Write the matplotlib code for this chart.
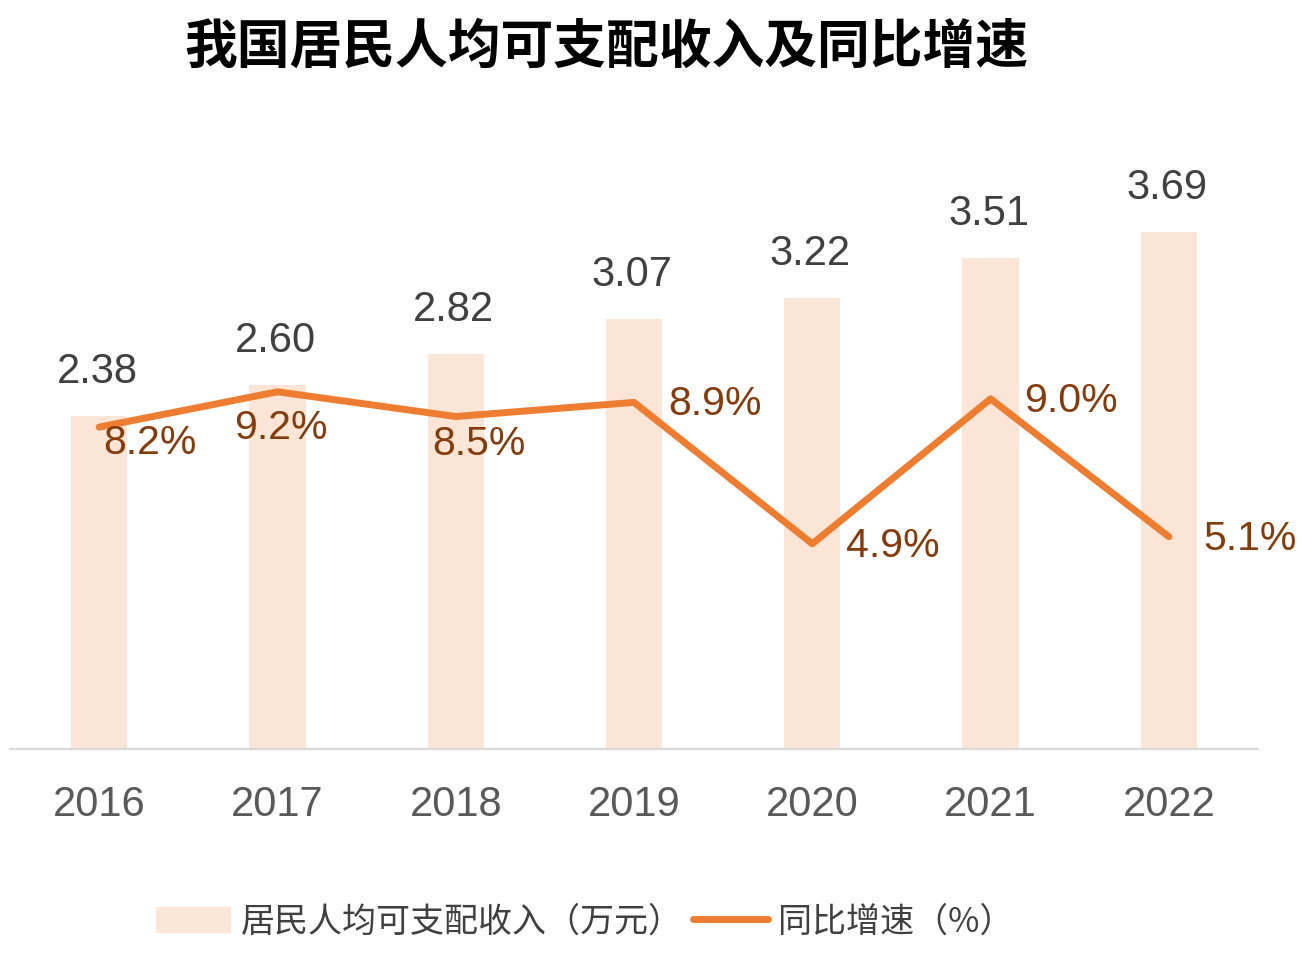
import matplotlib.pyplot as plt
import numpy as np

plt.rcParams['font.family'] = ['Liberation Sans', 'Noto Sans CJK SC', 'DejaVu Sans']

years = ['2016', '2017', '2018', '2019', '2020', '2021', '2022']
income = [2.38, 2.60, 2.82, 3.07, 3.22, 3.51, 3.69]
growth = [8.2, 9.2, 8.5, 8.9, 4.9, 9.0, 5.1]

# label offsets in pixels for the growth labels
pct_offsets = [(51, -16), (3, -36), (23, -27), (81, -2), (81, -2), (80, -2), (81, -2)]

bar_color = '#FBE5D6'
line_color = '#ED7D31'
pct_color = '#843C0C'

fig = plt.figure(figsize=(13.13, 9.64), dpi=100)
W, H = 1313, 964
ax = fig.add_axes([10 / W, (H - 749) / H, (1258 - 10) / W, (749 - 130) / H])
x = np.arange(len(years))

ax.bar(x, income, width=0.315, color=bar_color, label='居民人均可支配收入（万元）', zorder=1)
ax.set_xlim(-0.5, len(years) - 0.5)
ax.set_ylim(0, 619 / 140)
for xi, v in zip(x, income):
    ax.annotate(f'{v:.2f}', (xi, v), xytext=(-2, 44), textcoords='offset pixels',
                ha='center', va='center', fontsize=30, color='#404040')

ax2 = ax.twinx()
ax2.set_ylim(-(749 - 717) / 35.35, (717 - 130) / 35.35)
ax2.plot(x, growth, color=line_color, linewidth=5, solid_capstyle='round',
         solid_joinstyle='round', label='同比增速（%）', zorder=3)
for xi, v, (dx, dy) in zip(x, growth, pct_offsets):
    ax2.annotate(f'{v:.1f}%', (xi, v), xytext=(dx, dy), textcoords='offset pixels',
                 ha='center', va='center', fontsize=29.5, color=pct_color)

ax.set_xticks(x)
ax.set_xticklabels(years, fontsize=30, color='#595959')
ax.tick_params(axis='x', length=0, pad=26)
ax.set_yticks([])
ax2.set_yticks([])
for a in (ax, ax2):
    for s in ['top', 'left', 'right']:
        a.spines[s].set_visible(False)
    a.spines['bottom'].set_color('#D9D9D9')
    a.spines['bottom'].set_linewidth(1.5)

fig.text(606 / W, 1 - 47 / H, '我国居民人均可支配收入及同比增速', ha='center', va='center',
         fontsize=38, fontweight='bold', family=['Noto Sans CJK SC'])

h1, l1 = ax.get_legend_handles_labels()
h2, l2 = ax2.get_legend_handles_labels()
fig.legend(h1 + h2, l1 + l2, loc='center', bbox_to_anchor=(585 / W, 1 - 922 / H), ncol=2,
           frameon=False, handlelength=2.2, handleheight=0.8,
           columnspacing=0.3, handletextpad=0.3, labelcolor='#404040',
           prop={'family': ['Noto Sans CJK SC'], 'size': 24.5})

fig.savefig('out.png', dpi=100)
